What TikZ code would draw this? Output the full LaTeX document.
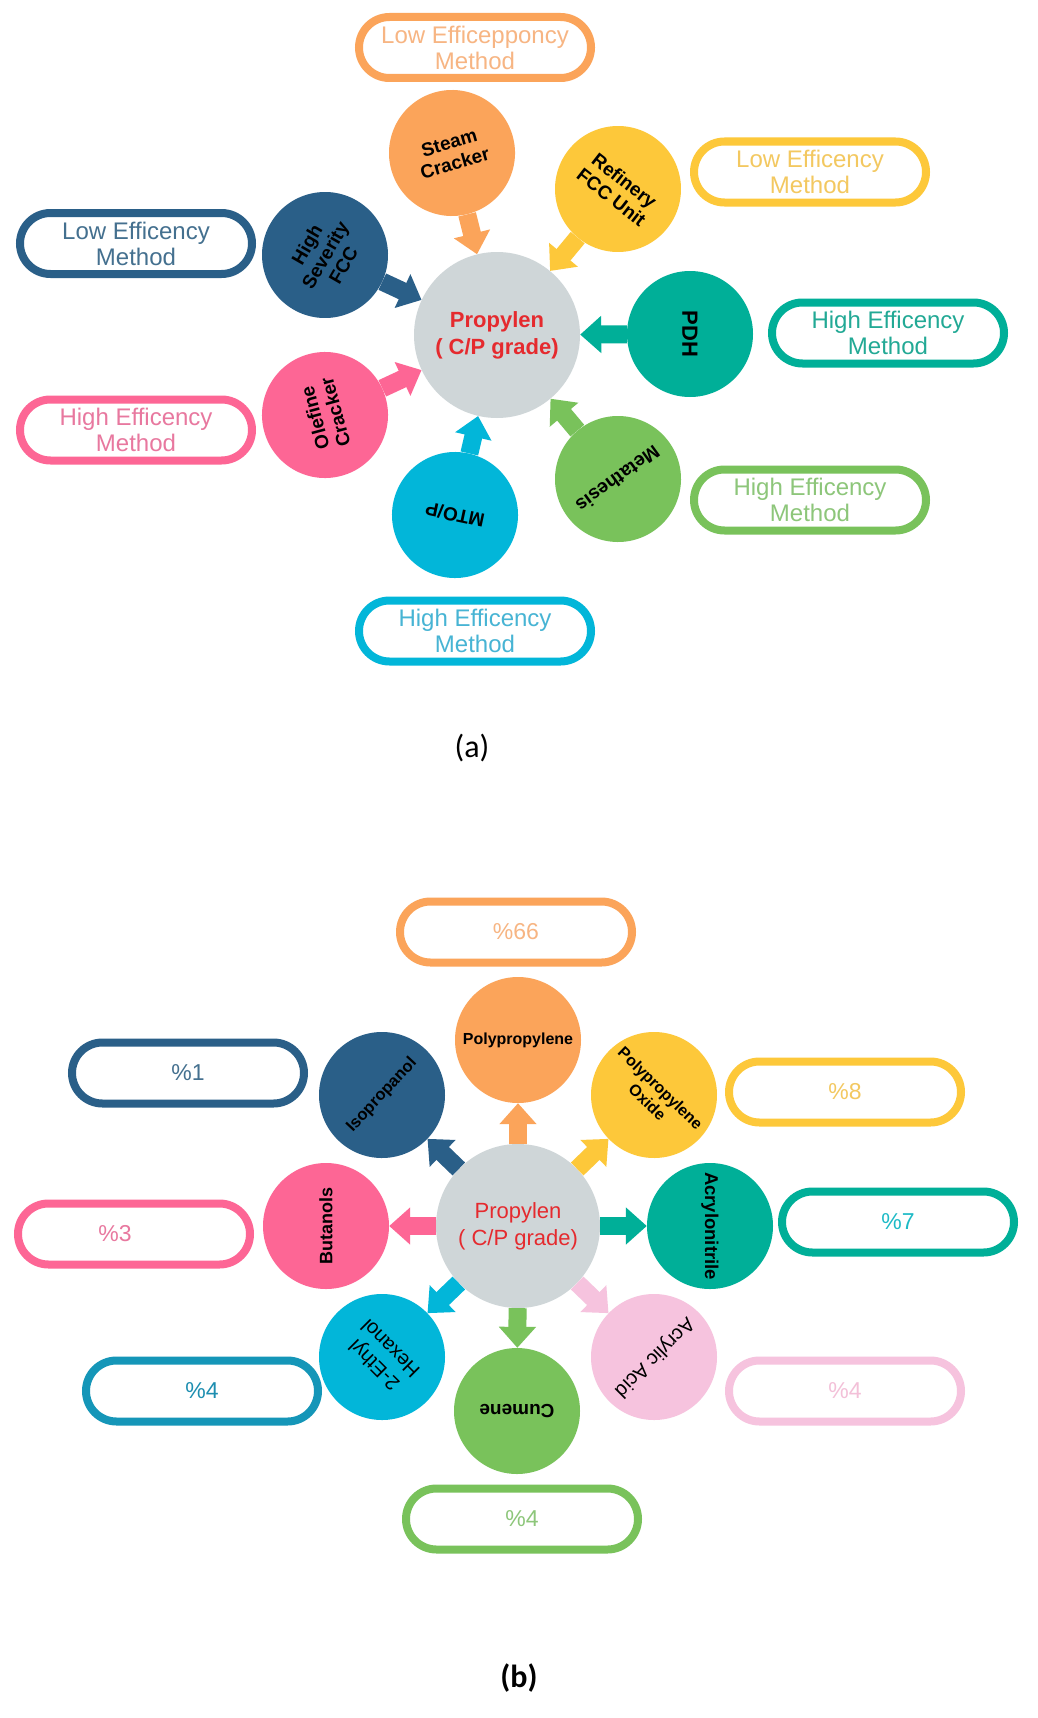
\documentclass[tikz,border=0pt]{standalone}
\usepackage{fontspec}
\setmainfont{Liberation Sans}
\newfontfamily\capfont{Carlito}
\usetikzlibrary{arrows.meta}
\definecolor{corange}{HTML}{FBA45A}
\definecolor{torange}{HTML}{F7B583}
\definecolor{cdblue}{HTML}{2A5F88}
\definecolor{tdblue}{HTML}{44708F}
\definecolor{cyellow}{HTML}{FDC83A}
\definecolor{tyellow}{HTML}{F3C860}
\definecolor{cteal}{HTML}{00AF98}
\definecolor{tteal}{HTML}{22A995}
\definecolor{cgreen}{HTML}{79C25B}
\definecolor{tgreen}{HTML}{8DC67A}
\definecolor{ccyan}{HTML}{02B6D9}
\definecolor{tcyan}{HTML}{47B4D4}
\definecolor{cpink}{HTML}{FD6695}
\definecolor{tpink}{HTML}{E8789F}
\definecolor{cgray}{HTML}{CFD6D8}
\definecolor{cred}{HTML}{E52A2E}
\definecolor{clpink}{HTML}{F6C3DE}
\definecolor{tlpink}{HTML}{F3C0D8}
\definecolor{cblue2}{HTML}{1596B8}
\definecolor{tblue2}{HTML}{1D8EB0}
\definecolor{tcyan2}{HTML}{1DBAC6}
\newcommand\bubfont{\fontsize{19}{21}\selectfont\bfseries}
\newcommand\ovfont{\fontsize{24}{26}\selectfont}
\newcommand\pcfont{\fontsize{23}{26}\selectfont}
\begin{document}
\begin{tikzpicture}[x=1pt,y=-1pt,
  bub/.style={circle, minimum size=126pt, inner sep=0pt, align=center, font=\bubfont},
  oval/.style={draw, line width=8pt, fill=white, rounded corners=30.5pt, minimum width=232pt, minimum height=61pt, inner sep=0pt, align=center, font=\ovfont},
  pct/.style={oval, font=\pcfont},
  fat/.style={line width=18pt, -{Triangle[length=21pt,width=36pt]}},
  captxt/.style={font=\capfont\fontsize{32}{36}\selectfont}]
\path[use as bounding box, fill=white] (0,0) rectangle (1038,1718);
% ---------- (a) ----------
\node[bub, minimum size=166pt, fill=cgray, text=cred, font=\fontsize{22}{27}\selectfont\bfseries] (p1) at (497,335) {Propylen\\( C/P grade)};
\node[bub, fill=corange, rotate=16] (steam) at (452,153) {Steam\\Cracker};
\node[bub, fill=cdblue, rotate=60] (hs) at (325,255) {High\\Severity\\FCC};
\node[bub, fill=cyellow, rotate=-38] (ref) at (618,189) {Refinery\\FCC Unit};
\node[bub, fill=cteal, rotate=-90, font=\fontsize{22}{24}\selectfont\bfseries] (pdh) at (690,334) {PDH};
\node[bub, fill=cgreen, rotate=216] (meta) at (618,479) {Metathesis};
\node[bub, fill=ccyan, rotate=168] (mto) at (455,515) {MTO/P};
\node[bub, fill=cpink, rotate=105] (ole) at (325,415) {Olefine\\Cracker};
\draw[fat, corange] (steam) -- (p1);
\draw[fat, cdblue] (hs) -- (p1);
\draw[fat, cyellow] (ref) -- (p1);
\draw[fat, cteal] (pdh) -- (p1);
\draw[fat, cgreen] (meta) -- (p1);
\draw[fat, ccyan] (mto) -- (p1);
\draw[fat, cpink] (ole) -- (p1);
\node[oval, draw=corange, text=torange] (osteam) at (475,47.5) {Low Efficepponcy\\Method};
\node[oval, draw=cdblue, text=tdblue] (ohs) at (136,243.5) {Low Efficency\\Method};
\node[oval, draw=cyellow, text=tyellow] (oref) at (810,172) {Low Efficency\\Method};
\node[oval, draw=cteal, text=tteal] (opdh) at (888,333) {High Efficency\\Method};
\node[oval, draw=cgreen, text=tgreen] (ometa) at (810,500) {High Efficency\\Method};
\node[oval, draw=ccyan, text=tcyan] (omto) at (475,631) {High Efficency\\Method};
\node[oval, draw=cpink, text=tpink] (oole) at (136,430) {High Efficency\\Method};
\node[captxt] (capa) at (472,748) {(a)};
% ---------- (b) ----------
\node[bub, minimum size=164pt, fill=cgray, text=cred, font=\fontsize{22}{27}\selectfont] (p2) at (518,1226) {Propylen\\( C/P grade)};
\node[bub, fill=corange, font=\fontsize{16}{18}\selectfont\bfseries] (poly) at (518,1040) {Polypropylene};
\node[bub, fill=cdblue, rotate=47, font=\fontsize{16.5}{18}\selectfont\bfseries] (iso) at (382,1095) {Isopropanol};
\node[bub, fill=cyellow, rotate=-44, font=\fontsize{16}{19}\selectfont\bfseries] (ppo) at (654,1095) {Polypropylene\\Oxide};
\node[bub, fill=cpink, rotate=90, font=\fontsize{18}{20}\selectfont\bfseries] (buta) at (326,1226) {Butanols};
\node[bub, fill=cteal, rotate=-90, font=\fontsize{18.5}{20}\selectfont\bfseries] (acn) at (710,1226) {Acrylonitrile};
\node[bub, fill=ccyan, rotate=135, font=\fontsize{20}{23}\selectfont] (eth) at (382,1357) {2-Ethyl\\Hexanol};
\node[bub, fill=clpink, rotate=225, font=\fontsize{20}{22}\selectfont] (acr) at (654,1357) {Acrylic Acid};
\node[bub, fill=cgreen, rotate=180, font=\fontsize{19}{21}\selectfont\bfseries] (cum) at (517,1411) {Cumene};
\draw[fat, corange] (p2) -- (poly);
\draw[fat, cdblue] (p2) -- (iso);
\draw[fat, cyellow] (p2) -- (ppo);
\draw[fat, cpink] (p2) -- (buta);
\draw[fat, cteal] (p2) -- (acn);
\draw[fat, ccyan] (p2) -- (eth);
\draw[fat, clpink] (p2) -- (acr);
\draw[fat, cgreen] (p2) -- (cum);
\node[pct, draw=corange, text=torange] (o66) at (516,932) {\%66};
\node[pct, draw=cdblue, text=tdblue] (o1) at (188,1073) {\%1};
\node[pct, draw=cyellow, text=tyellow] (o8) at (845,1092) {\%8};
\node[pct, draw=cpink, text=tpink] (o3) at (134,1234) {\hspace*{-38pt}\%3};
\node[pct, draw=cteal, text=tcyan2] (o7) at (898,1222) {\%7};
\node[pct, draw=cblue2, text=tblue2] (o4c) at (202,1391) {\%4};
\node[pct, draw=clpink, text=tlpink] (o4p) at (845,1391) {\%4};
\node[pct, draw=cgreen, text=tgreen] (o4g) at (522,1519) {\%4};
\node[captxt, font=\capfont\bfseries\fontsize{32}{36}\selectfont] (capb) at (519,1678) {(b)};
\end{tikzpicture}
\end{document}
